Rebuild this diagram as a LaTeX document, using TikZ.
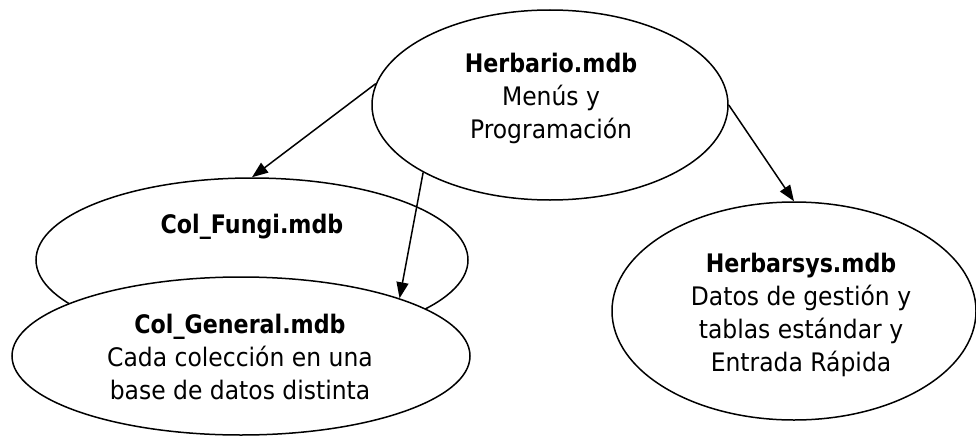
\documentclass[tikz,border=0pt]{standalone}
\usepackage{fontspec}
\setmainfont{DejaVu Sans}[FakeStretch=0.92, BoldFeatures={FakeStretch=0.87}]
\usetikzlibrary{shapes.geometric,arrows.meta}
\begin{document}
\begin{tikzpicture}[x=1pt,y=-1pt,
  ell/.style={draw, ellipse, line width=1.5pt, inner sep=0pt, fill=white},
  txt/.style={align=center, inner sep=0pt, anchor=north, font=\fontsize{25.5}{33}\selectfont},
  arr/.style={line width=1.5pt, -{Triangle[length=16pt,width=12pt]}}]
\useasboundingbox (0,0) rectangle (976,436);
\node[ell, minimum width=356pt, minimum height=190pt] (herb) at (550,105) {};
\node[ell, minimum width=432pt, minimum height=164pt] (fungi) at (252,260) {};
\node[ell, minimum width=458pt, minimum height=158pt] (general) at (241,356) {};
\node[ell, minimum width=364pt, minimum height=218pt] (sys) at (794,311) {};
\node[txt] (herbT) at (551,52.6) {\textbf{Herbario.mdb}\\Menús y\\Programación};
\node[txt] (fungiT) at (252,213.6) {\textbf{Col\_Fungi.mdb}};
\node[txt] (generalT) at (240,313.6) {\textbf{Col\_General.mdb}\\Cada colección en una\\base de datos distinta};
\node[txt] (sysT) at (801,252.6) {\textbf{Herbarsys.mdb}\\Datos de gestión y\\tablas estándar y\\Entrada Rápida};
\draw[arr] (herb.173) -- (fungi.north);
\draw[arr] (herb.208) -- (general.20);
\draw[arr] (herb.east) -- (sys.north);
\end{tikzpicture}
\end{document}
